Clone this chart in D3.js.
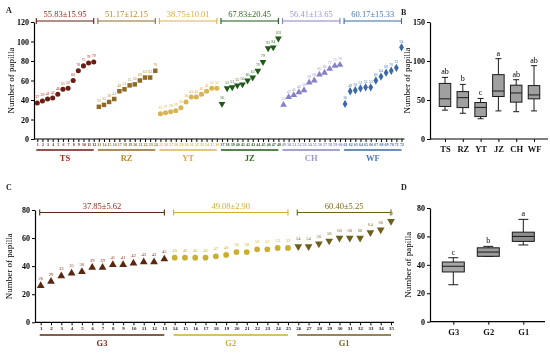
<!DOCTYPE html>
<html>
<head>
<meta charset="utf-8">
<script src="https://cdn.jsdelivr.net/npm/d3@7"></script>
<style>
  body { margin: 0; background: #fff; }
  svg { display: block; font-family: "Liberation Serif", "DejaVu Serif", serif; will-change: transform; }
</style>
</head>
<body>
<svg id="chart" width="550" height="353"></svg>
<script>
// ---- data, panel A / B ----
const groupsA = ["TS", "RZ", "YT", "JZ", "CH", "WF"]
const TS = [37, 39, 41, 42, 46, 51, 52, 60, 70, 75, 78, 79]
const RZ = [33, 35, 38, 41, 49, 51, 55, 56, 60, 63, 63, 70]
const YT = [26, 27, 28, 29, 32, 38, 43, 43, 46, 49, 52, 52]
const JZ = [36, 52, 53, 55, 56, 60, 63, 70, 79, 93, 94, 103]
const CH = [35, 43, 45, 48, 50, 58, 60, 66, 68, 72, 75, 76]
const WF = [36, 49, 50, 52, 53, 53, 60, 64, 68, 70, 73, 94]
const meansA = ["55.83±15.95", "51.17±12.15", "38.75±10.01", "67.83±20.45", "56.41±13.65", "60.17±15.33"]
const lettersB = ["ab", "b", "c", "a", "ab", "ab"]
const yTicksA = [0, 20, 40, 60, 80, 100, 120]
const yTicksB = [0, 50, 100, 150]

// ---- data, panel C / D ----
const groupsC = ["G3", "G2", "G1"]
const G3 = [26, 29, 33, 35, 36, 39, 39, 41, 41, 42, 43, 43, 45]
const G2 = [46, 46, 46, 46, 47, 48, 50, 50, 52, 52, 53, 53]
const G1 = [54, 54, 56, 58, 60, 60, 60, 64, 66, 72]
const meansC = ["37.85±5.62", "49.08±2.90", "60.40±5.25"]
const lettersD = ["c", "b", "a"]
const yTicksC = [0, 20, 40, 60, 80]

const seriesA = [TS, RZ, YT, JZ, CH, WF]
const seriesC = [G3, G2, G1]

const markA = ["#6a1d12", "#8e6a26", "#d8b552", "#1f5a18", "#8682c4", "#3b68a6"]
const textA = ["#a02a1c", "#b8892f", "#d9ad3c", "#2f6b1f", "#9a98d0", "#4a78b0"]
const shapeA = ["circle", "square", "circle", "down", "up", "diamond"]
const markC = ["#5a2810", "#c9ae30", "#6e5f1c"]
const textC = ["#8b2a1a", "#c9b03a", "#7a6a26"]
const shapeC = ["up", "circle", "down"]
const boxFillD = ["#a6a6a6", "#9a9a9a", "#8c8c8c"]

const svg = d3.select("#chart")
const serif = "Liberation Serif, DejaVu Serif, serif"

function symbolPath(kind, size) {
  const t = { circle: d3.symbolCircle, square: d3.symbolSquare, up: d3.symbolTriangle,
              down: d3.symbolTriangle, diamond: d3.symbolDiamond }[kind]
  return d3.symbol().type(t).size(size)()
}

// flatten groups into indexed points
function flatten(series) {
  let pts = [], k = 1
  series.forEach((s, g) => s.forEach(v => pts.push({ i: k++, v: v, g: g })))
  return pts
}

function scatterPanel(opt) {
  const pts = flatten(opt.series)
  const n = pts.length
  const x = d3.scaleLinear().domain([1, n]).range(opt.xr)
  const y = d3.scaleLinear().domain([0, opt.ymax]).range(opt.yr)

  // y axis
  const ya = svg.append("g")
    .attr("transform", `translate(${opt.axisX},0)`)
    .call(d3.axisLeft(y).tickValues(opt.yticks).tickSize(3).tickSizeOuter(0).tickPadding(2))
  ya.attr("font-family", serif).attr("font-size", 8).attr("font-weight", "bold")
  ya.select(".domain").attr("stroke-width", 1.2)

  // x axis
  const xa = svg.append("g")
    .attr("transform", `translate(0,${opt.yr[0]})`)
    .call(d3.axisBottom(x).tickValues(d3.range(1, n + 1)).tickSize(3).tickSizeOuter(0).tickPadding(1))
  xa.select(".domain").remove()
  xa.attr("font-family", serif).attr("font-size", opt.tickFont).attr("font-weight", "bold")
  xa.selectAll("text").attr("fill", d => opt.tickColor ? opt.tickColor(pts[d - 1].g) : "#222")
  svg.append("line")
    .attr("x1", opt.axisX).attr("x2", opt.xr[1] + 3)
    .attr("y1", opt.yr[0]).attr("y2", opt.yr[0])
    .attr("stroke", "#000").attr("stroke-width", 1.2)

  opt.series.forEach((s, g) => {
    const first = pts.find(p => p.g === g).i
    const last = first + s.length - 1
    const x0 = x(first) - 1, x1 = x(last)
    // top bracket with mean±sd
    const by = opt.bracketY
    svg.append("path")
      .attr("d", `M${x0},${by - 3}V${by + 3}M${x0},${by}H${x1}M${x1},${by - 3}V${by + 3}`)
      .attr("stroke", opt.lineColor[g]).attr("stroke-width", 1.1).attr("fill", "none")
    svg.append("text")
      .attr("x", (x0 + x1) / 2).attr("y", by - 4)
      .attr("text-anchor", "middle").attr("font-size", opt.meanFont)
      .attr("fill", opt.textColor[g]).text(opt.means[g])
    // bottom group line and name
    svg.append("line")
      .attr("x1", x0).attr("x2", x1).attr("y1", opt.groupLineY).attr("y2", opt.groupLineY)
      .attr("stroke", opt.lineColor[g]).attr("stroke-width", 1.3)
    svg.append("text")
      .attr("x", (x0 + x1) / 2).attr("y", opt.groupLineY + 11)
      .attr("text-anchor", "middle").attr("font-size", 8.5).attr("font-weight", "bold")
      .attr("fill", opt.textColor[g]).text(opt.names[g])
  })

  // points and value labels
  svg.append("g").selectAll("path")
    .data(pts)
    .join("path")
      .attr("d", d => symbolPath(opt.shapes[d.g], opt.symSize))
      .attr("transform", d => `translate(${x(d.i)},${y(d.v)})` + (opt.shapes[d.g] === "down" ? " rotate(180)" : ""))
      .attr("fill", d => opt.markColor[d.g])

  svg.append("g").selectAll("text")
    .data(pts)
    .join("text")
      .attr("x", d => x(d.i)).attr("y", d => y(d.v) - opt.labelGap)
      .attr("text-anchor", "middle").attr("font-size", opt.labelFont)
      .attr("fill", d => opt.textColor[d.g])
      .text(d => d.v)

  // y title
  svg.append("text")
    .attr("transform", `translate(${opt.titleX},${(opt.yr[0] + opt.yr[1]) / 2}) rotate(-90)`)
    .attr("text-anchor", "middle").attr("font-size", 9).attr("font-family", serif)
    .text("Number of papilla")
}

function boxPanel(opt) {
  const x = d3.scalePoint().domain(opt.names).range(opt.xr)
  const y = d3.scaleLinear().domain([0, opt.ymax]).range(opt.yr)

  const ya = svg.append("g")
    .attr("transform", `translate(${opt.axisX},0)`)
    .call(d3.axisLeft(y).tickValues(opt.yticks).tickSize(3).tickSizeOuter(0).tickPadding(2))
  ya.attr("font-family", serif).attr("font-size", 8).attr("font-weight", "bold")
  ya.select(".domain").attr("stroke-width", 1.2)

  const xa = svg.append("g")
    .attr("transform", `translate(0,${opt.yr[0]})`)
    .call(d3.axisBottom(x).tickSize(3).tickSizeOuter(0).tickPadding(4))
  xa.select(".domain").remove()
  xa.attr("font-family", serif).attr("font-size", 8.5).attr("font-weight", "bold")
  xa.selectAll("text").attr("fill", "#111")
  svg.append("line")
    .attr("x1", opt.axisX).attr("x2", opt.xEnd)
    .attr("y1", opt.yr[0]).attr("y2", opt.yr[0])
    .attr("stroke", "#000").attr("stroke-width", 1.2)

  opt.series.forEach((s, g) => {
    const v = s.slice().sort(d3.ascending)
    const q1 = d3.quantile(v, 0.25), med = d3.quantile(v, 0.5), q3 = d3.quantile(v, 0.75)
    const lo = d3.min(v), hi = d3.max(v)
    const cx = x(opt.names[g]), w = opt.boxW
    const gg = svg.append("g").attr("stroke", "#1a1a1a").attr("stroke-width", 1)
    gg.append("line").attr("x1", cx).attr("x2", cx).attr("y1", y(hi)).attr("y2", y(q3))
    gg.append("line").attr("x1", cx).attr("x2", cx).attr("y1", y(q1)).attr("y2", y(lo))
    gg.append("line").attr("x1", cx - opt.capW / 2).attr("x2", cx + opt.capW / 2).attr("y1", y(hi)).attr("y2", y(hi))
    gg.append("line").attr("x1", cx - opt.capW / 2).attr("x2", cx + opt.capW / 2).attr("y1", y(lo)).attr("y2", y(lo))
    gg.append("rect").attr("x", cx - w / 2).attr("width", w)
      .attr("y", y(q3)).attr("height", y(q1) - y(q3)).attr("fill", opt.fill[g])
    gg.append("line").attr("x1", cx - w / 2).attr("x2", cx + w / 2).attr("y1", y(med)).attr("y2", y(med))
    svg.append("text")
      .attr("x", cx).attr("y", y(hi) - 3)
      .attr("text-anchor", "middle").attr("font-size", 8).attr("fill", "#000")
      .text(opt.letters[g])
  })

  svg.append("text")
    .attr("transform", `translate(${opt.titleX},${(opt.yr[0] + opt.yr[1]) / 2}) rotate(-90)`)
    .attr("text-anchor", "middle").attr("font-size", 9).attr("font-family", serif)
    .text("Number of papilla")
}

// ---- panel A ----
scatterPanel({
  series: seriesA, names: groupsA, means: meansA,
  xr: [37.3, 401.5], yr: [139, 22], ymax: 120, yticks: yTicksA, axisX: 34,
  bracketY: 21, groupLineY: 150, titleX: 14,
  markColor: markA, textColor: textA, lineColor: markA, shapes: shapeA,
  symSize: 20, labelFont: 3.8, labelGap: 4.5, meanFont: 8.5, tickFont: 4,
  tickColor: g => markA[g]
})

// ---- panel B ----
boxPanel({
  series: seriesA, names: groupsA, letters: lettersB,
  xr: [445, 534], yr: [139, 22], ymax: 150, yticks: yTicksB, axisX: 430, xEnd: 548,
  boxW: 11.5, capW: 6, fill: groupsA.map(() => "#a0a0a0"), titleX: 410
})

// ---- panel C ----
scatterPanel({
  series: seriesC, names: groupsC, means: meansC,
  xr: [40.7, 391], yr: [322.3, 210], ymax: 80, yticks: yTicksC, axisX: 35,
  bracketY: 212.5, groupLineY: 335, titleX: 12,
  markColor: markC, textColor: textC, lineColor: markC, shapes: shapeC,
  symSize: 26, labelFont: 4.6, labelGap: 6, meanFont: 8.5, tickFont: 5,
  tickColor: null
})

// ---- panel D ----
boxPanel({
  series: seriesC, names: groupsC, letters: lettersD,
  xr: [453.3, 523.3], yr: [321.7, 208], ymax: 80, yticks: yTicksC, axisX: 430, xEnd: 545,
  boxW: 22, capW: 10, fill: boxFillD, titleX: 411
})

// panel letters
const letters = [["A", 6, 13], ["B", 401, 15], ["C", 6, 190], ["D", 401, 190]]
svg.selectAll(".plabel").data(letters).join("text")
  .attr("class", "plabel")
  .attr("x", d => d[1]).attr("y", d => d[2])
  .attr("font-size", 8).attr("font-weight", "bold").attr("fill", "#222")
  .text(d => d[0])
</script>
</body>
</html>
